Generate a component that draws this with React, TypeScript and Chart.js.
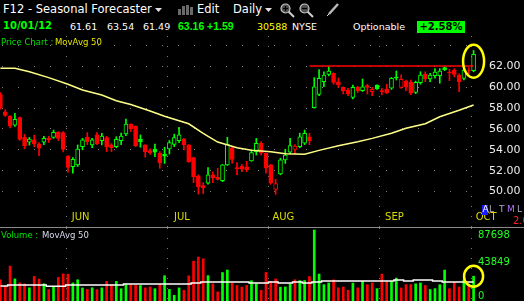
import React, { useEffect, useRef } from 'react';
import { Chart, registerables } from 'chart.js';

Chart.register(...registerables);

// ---- categories: trading days (MM/DD) ----
const mayDays = [11, 14, 15, 16, 17, 18, 21, 22, 23, 24, 25, 29, 30, 31];
const junDays = [1, 4, 5, 6, 7, 8, 11, 12, 13, 14, 15, 18, 19, 20, 21, 22, 25, 26, 27, 28, 29];
const julDays = [2, 3, 5, 6, 9, 10, 11, 12, 13, 16, 17, 18, 19, 20, 23, 24, 25, 26, 27, 30, 31];
const augDays = [1, 2, 3, 6, 7, 8, 9, 10, 13, 14, 15, 16, 17, 20, 21, 22, 23, 24, 27, 28, 29, 30, 31];
const sepDays = [4, 5, 6, 7, 10, 11, 12, 13, 14, 17, 18, 19, 20, 21, 24, 25, 26, 27, 28];
const octDays = [1];
const monthNames: Record<string, string> = { '05': 'MAY', '06': 'JUN', '07': 'JUL', '08': 'AUG', '09': 'SEP', '10': 'OCT' };
const monthDays: [string, number[]][] = [['05', mayDays], ['06', junDays], ['07', julDays], ['08', augDays], ['09', sepDays], ['10', octDays]];
const labels: string[] = [];
monthDays.forEach(([m, days]) => days.forEach((d) => labels.push(`${m}/${String(d).padStart(2, '0')}`)));

// ---- OHLC ----
const opens = [
  59.3, 57.65, 57.25, 56.36, 57.1, 55.2, 54.73, 54.95, 54.56, 54.73,
  55.1, 55.2, 55.68, 55.65, 53.4, 52.38, 52.55, 54.3, 55.23, 54.47,
  55.43, 54.88, 55.17, 54.47, 54.3, 54.88, 55.52, 56.48, 56.29, 55.04,
  54.47, 53.92, 54.08, 53.67, 53.57, 54.08, 54.53, 54.88, 55.01, 54.47,
  53.25, 51.49, 50.56, 50.79, 51.59, 51.37, 51.04, 52.55, 54.2, 52.29,
  52.45, 52.38, 52.93, 53.83, 54.63, 53.67, 52.55, 50.21, 51.68, 53.03,
  53.77, 54.05, 54.3, 54.63, 55.26, 58.05, 59.33, 60.54, 61.25, 61.35,
  60.54, 60.0, 59.74, 59.04, 60.0, 59.68, 60.16, 59.58, 60.22, 59.68,
  59.84, 59.91, 60.98, 60.0, 60.6, 60.48, 59.52, 60.45, 61.28, 60.8,
  61.12, 61.12, 61.9, 61.45, 61.66, 61.18, 60.85, 61.62, 61.61,
];
const highs = [
  59.5, 57.85, 57.3, 57.5, 57.15, 55.5, 55.2, 55.4, 54.7, 55.3,
  55.3, 55.9, 55.75, 55.75, 53.45, 53.25, 54.47, 55.1, 55.65, 55.1,
  55.65, 55.59, 55.3, 54.6, 55.26, 55.6, 56.96, 56.5, 56.3, 55.43,
  54.5, 54.1, 54.56, 53.83, 54.25, 54.9, 55.5, 56.16, 55.1, 54.5,
  53.3, 51.6, 50.85, 52.29, 51.9, 52.23, 52.6, 55.2, 54.3, 52.77,
  52.6, 52.9, 54.0, 55.1, 54.8, 53.7, 52.6, 51.17, 53.2, 54.05,
  55.1, 54.5, 55.6, 55.9, 55.6, 60.93, 61.7, 61.5, 62.0, 61.4,
  60.9, 60.05, 59.9, 60.22, 60.1, 60.8, 60.3, 60.0, 60.25, 59.9,
  60.3, 60.95, 61.57, 61.2, 60.7, 60.7, 60.6, 61.5, 61.5, 61.35,
  61.8, 61.8, 62.0, 61.73, 61.8, 61.3, 61.8, 61.9, 63.54,
];
const lows = [
  57.9, 57.2, 56.1, 56.25, 54.9, 54.1, 54.45, 54.3, 53.45, 54.5,
  54.7, 55.1, 54.88, 53.8, 51.85, 51.75, 52.4, 54.0, 54.5, 54.2,
  54.5, 54.47, 53.83, 53.83, 54.2, 54.5, 55.36, 55.75, 54.3, 54.25,
  53.3, 53.55, 53.35, 52.23, 52.7, 53.6, 54.3, 54.69, 54.0, 52.8,
  50.85, 49.75, 49.8, 50.7, 50.85, 51.1, 50.95, 52.5, 52.71, 51.6,
  51.9, 51.9, 52.9, 53.5, 53.5, 51.75, 50.7, 49.73, 51.6, 52.7,
  53.6, 53.6, 54.2, 54.5, 54.5, 58.0, 59.2, 60.06, 61.1, 60.3,
  60.0, 59.36, 59.2, 58.88, 59.5, 59.6, 59.36, 59.2, 59.8, 59.26,
  59.4, 59.8, 60.7, 59.9, 59.68, 59.3, 59.4, 60.3, 60.54, 60.54,
  60.87, 60.4, 61.6, 60.64, 61.0, 59.58, 60.7, 61.3, 61.49,
];
const closes = [
  58.0, 57.3, 56.3, 56.93, 55.0, 54.4, 55.04, 54.56, 54.15, 55.1,
  54.95, 55.68, 55.1, 54.05, 52.3, 53.1, 54.08, 54.95, 54.78, 54.95,
  54.6, 55.33, 54.3, 54.2, 55.0, 55.33, 56.48, 56.0, 54.4, 54.78,
  53.83, 53.73, 53.77, 52.77, 53.4, 54.69, 55.17, 55.43, 54.47, 52.87,
  51.42, 50.47, 50.37, 51.59, 51.33, 51.17, 52.55, 54.53, 53.09, 52.2,
  52.15, 52.1, 53.73, 54.63, 53.67, 52.23, 50.79, 50.75, 53.03, 53.5,
  54.4, 54.37, 55.26, 55.59, 54.85, 60.06, 60.87, 61.18, 61.57, 60.48,
  60.22, 59.68, 59.36, 60.0, 59.65, 60.06, 60.0, 59.81, 59.85, 59.58,
  59.49, 60.87, 60.9, 60.77, 60.06, 59.43, 60.48, 61.18, 60.8, 61.18,
  61.47, 61.57, 61.7, 61.38, 61.25, 60.54, 61.65, 61.57, 63.16,
];

// ---- 50-day moving average of price, read at points [index, value] ----
const maPoints: [number, number][] = [
  [0, 61.83], [3, 61.83], [6, 61.5], [10, 60.93], [14, 60.29], [17, 59.74], [21, 59.26],
  [24, 58.72], [27, 58.35], [31, 57.73], [34, 57.22], [39, 56.5], [42, 55.59], [45, 54.75],
  [49, 54.2], [52, 53.95], [56, 53.82], [59, 53.62], [63, 53.57], [66, 53.95], [70, 54.4],
  [74, 54.78], [77, 55.1], [81, 55.6], [84, 56.07], [88, 56.5], [91, 57.18], [95, 57.8], [98, 58.3],
];

// ---- resistance line ----
const resistanceLevel = 62.05;
const resistanceFrom = 64;
const resistanceTo = 98;

// ---- volume ----
const volumes = [
  26100, 18200, 43100, 27300, 22400, 21200, 16300, 30400, 27100, 21300,
  14200, 18300, 29200, 33400, 33100, 22300, 26200, 16100, 14300, 16400,
  14100, 16200, 24300, 20100, 24200, 15100, 20300, 20200, 19300, 19100,
  16200, 17300, 15200, 20400, 31200, 14300, 7100, 16200, 13300, 31100,
  49200, 54300, 52100, 31300, 21200, 11300, 35200, 38300, 22100, 19200,
  17200, 19300, 25100, 21400, 13200, 35300, 24100, 27200, 17100, 17400,
  21300, 26300, 25200, 25300, 30200, 87698, 33300, 20200, 22300, 26100,
  16300, 17200, 13300, 22100, 16200, 24300, 20100, 22200, 15300, 33200,
  24100, 24300, 28300, 16100, 20200, 20300, 21200, 22300, 19100, 14200,
  15300, 20100, 38200, 15200, 23100, 17300, 26200, 20100, 30588,
];
const volumeMA = [
  18500, 18500, 19800, 19800, 19800, 19800, 19800, 19800, 19800, 19800,
  18100, 18100, 18100, 18100, 19800, 19800, 19800, 19800, 19800, 19800,
  19800, 19800, 19800, 19800, 19800, 19800, 21000, 21000, 21000, 21000,
  21000, 21000, 21000, 21000, 21000, 21000, 21000, 21000, 21000, 21000,
  22200, 22200, 23500, 23500, 23500, 23500, 23500, 23500, 23500, 23500,
  23500, 23500, 22200, 22200, 22200, 22200, 23500, 23500, 22200, 22200,
  22200, 23500, 23500, 22200, 22200, 23500, 23500, 24700, 24700, 24700,
  24700, 24700, 24700, 24700, 24700, 24700, 24700, 24700, 24700, 24700,
  24700, 24700, 25900, 25900, 24700, 24700, 25900, 25900, 25900, 25900,
  24700, 24700, 23500, 23500, 23500, 23500, 23500, 23500, 23500,
];
const volumeTickLabels = ['0', '43849', '87698'];
const volumeTickValues = [0, 43849, 87698];
const priceTicks = [50, 52, 54, 56, 58, 60, 62, 64];

const GREEN = '#00ff00';
const RED = '#ff0000';
const isUp = (i: number) => (i === 0 ? closes[0] >= opens[0] : closes[i] >= closes[i - 1]);
const candleColors = closes.map((_, i) => (isUp(i) ? GREEN : RED));
const bodyFills = closes.map((c, i) => (c > opens[i] ? '#000000' : candleColors[i]));

const monthStarts: { index: number; name: string }[] = [];
labels.forEach((l, i) => {
  if (i > 0 && l.slice(0, 2) !== labels[i - 1].slice(0, 2)) monthStarts.push({ index: i, name: monthNames[l.slice(0, 2)] });
});

const FONT = '"DejaVu Sans", Verdana, sans-serif';
const NARROW = '"Liberation Sans", Arial, sans-serif';

function drawMonthLines(chart: any) {
  const { ctx, chartArea, scales } = chart;
  const x = scales.x;
  ctx.save();
  ctx.strokeStyle = '#7a7a7a';
  ctx.lineWidth = 1;
  ctx.setLineDash([1, 9]);
  monthStarts.forEach((ms) => {
    const bx = Math.round((x.getPixelForValue(ms.index - 1) + x.getPixelForValue(ms.index)) / 2) + 0.5;
    ctx.beginPath();
    ctx.moveTo(bx, chartArea.top);
    ctx.lineTo(bx, chartArea.bottom);
    ctx.stroke();
  });
  ctx.restore();
}

const pricePlugin = {
  id: 'pricePlugin',
  beforeDatasetsDraw(chart: any) {
    drawMonthLines(chart);
  },
  afterDatasetsDraw(chart: any) {
    const { ctx, scales } = chart;
    const x = scales.x;
    const y = scales.y;
    ctx.save();
    ctx.font = `10px ${FONT}`;
    ctx.fillStyle = '#dada00';
    ctx.textAlign = 'center';
    ctx.textBaseline = 'middle';
    monthStarts.forEach((ms) => {
      const bx = (x.getPixelForValue(ms.index - 1) + x.getPixelForValue(ms.index)) / 2;
      ctx.fillText(ms.name, bx + 15, 181.5);
    });
    // highlight ellipse around last candle
    const li = closes.length - 1;
    const cx = x.getPixelForValue(li);
    const cy = y.getPixelForValue((highs[li] + lows[li]) / 2);
    ctx.strokeStyle = '#ffff00';
    ctx.lineWidth = 2.5;
    ctx.beginPath();
    ctx.ellipse(cx, cy, 10.5, 16.5, 0, 0, Math.PI * 2);
    ctx.stroke();
    ctx.restore();
  },
};

const volumePlugin = {
  id: 'volumePlugin',
  beforeDatasetsDraw(chart: any) {
    drawMonthLines(chart);
  },
  afterDatasetsDraw(chart: any) {
    const { ctx, scales, chartArea } = chart;
    const x = scales.x;
    const y = scales.y;
    ctx.save();
    ctx.font = `10px ${FONT}`;
    ctx.fillStyle = '#22ff22';
    ctx.textAlign = 'left';
    ctx.textBaseline = 'middle';
    volumeTickValues.forEach((v, i) => {
      let py = y.getPixelForValue(v) - 3;
      py = Math.max(chartArea.top + 7, Math.min(chartArea.bottom - 5, py));
      ctx.fillText(volumeTickLabels[i], chartArea.right + 2, py);
    });
    const li = volumes.length - 1;
    ctx.strokeStyle = '#ffff00';
    ctx.lineWidth = 2.5;
    ctx.beginPath();
    ctx.ellipse(x.getPixelForValue(li), y.getPixelForValue(volumes[li]), 9.5, 10.5, 0, 0, Math.PI * 2);
    ctx.stroke();
    ctx.restore();
  },
};

const T = (p: { x: number; y: number; s: number; c: string; b?: boolean; children: React.ReactNode; w?: number; f?: string }) => (
  <span
    style={{
      position: 'absolute', left: p.x, top: p.y, fontSize: p.s, color: p.c, fontWeight: p.b ? 'bold' : 'normal',
      lineHeight: 1, whiteSpace: 'pre', fontFamily: p.f || FONT, width: p.w, textAlign: p.w ? 'center' : undefined,
    }}
  >
    {p.children}
  </span>
);

export default function App() {
  const priceRef = useRef<HTMLCanvasElement>(null);
  const volRef = useRef<HTMLCanvasElement>(null);

  useEffect(() => {
    const pc = new Chart(priceRef.current as HTMLCanvasElement, {
      type: 'bar',
      data: {
        labels,
        datasets: [
          {
            type: 'line', data: maPoints.map(([i, v]) => ({ x: labels[i], y: v })) as any,
            borderColor: '#ffff88', borderWidth: 1.5, pointRadius: 0, order: 0, spanGaps: true,
          } as any,
          {
            type: 'line', data: [{ x: labels[resistanceFrom], y: resistanceLevel }, { x: labels[resistanceTo], y: resistanceLevel }] as any,
            borderColor: RED, borderWidth: 1.5, pointRadius: 0, order: 0,
          } as any,
          {
            type: 'bar', data: opens.map((o, i) => [o, closes[i]]) as any, backgroundColor: bodyFills, borderColor: candleColors,
            borderWidth: 1, borderSkipped: false, barThickness: 4, grouped: false, order: 1,
          } as any,
          {
            type: 'bar', data: lows.map((l, i) => [l, highs[i]]) as any, backgroundColor: candleColors,
            borderWidth: 0, barThickness: 1, grouped: false, order: 2,
          } as any,
        ],
      },
      options: {
        animation: false, responsive: false, maintainAspectRatio: false,
        layout: { padding: 0, autoPadding: false },
        plugins: { legend: { display: false }, tooltip: { enabled: false } },
        scales: {
          x: { display: false, offset: true },
          y: {
            position: 'right', min: 46.592, max: 64.928,
            afterBuildTicks: (s: any) => { s.ticks = priceTicks.map((v) => ({ value: v })); },
            afterFit: (s: any) => { s.width = 48; s.paddingTop = 0; s.paddingBottom = 0; },
            ticks: {
              padding: 13, color: '#ececec', font: { family: FONT, size: 11 },
              callback: (v: any) => (Number(v) <= 62 ? Number(v).toFixed(2) : ''),
            },
            grid: { color: '#808080', drawTicks: false },
            border: { display: false, dash: [1, 15], dashOffset: -4 },
          },
        },
      } as any,
      plugins: [pricePlugin],
    });

    const vc = new Chart(volRef.current as HTMLCanvasElement, {
      type: 'bar',
      data: {
        labels,
        datasets: [
          {
            type: 'line', data: volumeMA, borderColor: '#ffffff', borderWidth: 1.5, pointRadius: 0, stepped: 'middle', order: 0,
          } as any,
          {
            type: 'bar', data: volumes, backgroundColor: candleColors, borderWidth: 0, barThickness: 2, grouped: false, order: 1,
          } as any,
        ],
      },
      options: {
        animation: false, responsive: false, maintainAspectRatio: false,
        layout: { padding: 0, autoPadding: false },
        plugins: { legend: { display: false }, tooltip: { enabled: false } },
        scales: {
          x: { display: false, offset: true },
          y: {
            position: 'right', min: 0, max: 90168,
            afterFit: (s: any) => { s.width = 48; s.paddingTop = 0; s.paddingBottom = 0; },
            ticks: { display: false },
            grid: { display: false },
            border: { display: false },
          },
        },
      } as any,
      plugins: [volumePlugin],
    });

    return () => { pc.destroy(); vc.destroy(); };
  }, []);

  return (
    <div style={{ position: 'fixed', left: 0, top: 0, width: 524, height: 301, background: '#000', overflow: 'hidden' }}>
      {/* row 1 */}
      <T x={3} y={3.6} s={11.5} c="#ffffff">F12 - Seasonal Forecaster</T>
      <svg style={{ position: 'absolute', left: 155, top: 8 }} width={8} height={5}><polygon points="0,0 7,0 3.5,4" fill="#e0e0e0" /></svg>
      <svg style={{ position: 'absolute', left: 178, top: 5 }} width={16} height={10}>
        <rect x={0} y={4} width={3} height={6} fill="#6a6a6a" />
        <rect x={4} y={1} width={3} height={9} fill="#6a6a6a" />
        <rect x={8} y={0} width={3} height={10} fill="#6a6a6a" />
        <rect x={12} y={2} width={3} height={8} fill="#6a6a6a" />
      </svg>
      <T x={197} y={3.6} s={11.5} c="#ffffff">Edit</T>
      <T x={233} y={3.6} s={11.5} c="#ffffff">Daily</T>
      <svg style={{ position: 'absolute', left: 265, top: 8 }} width={8} height={5}><polygon points="0,0 7,0 3.5,4" fill="#e0e0e0" /></svg>
      {[280, 299].map((lx, k) => (
        <svg key={lx} style={{ position: 'absolute', left: lx, top: 3 }} width={16} height={16}>
          <line x1={8} y1={8} x2={14} y2={14} stroke="#d0d0d0" strokeWidth={2} />
          <circle cx={5.5} cy={5.5} r={4.5} fill="#505050" stroke="#c8c8c8" strokeWidth={1.2} />
          <line x1={3} y1={5.5} x2={8} y2={5.5} stroke="#000" strokeWidth={1.2} />
          {k === 0 && <line x1={5.5} y1={3} x2={5.5} y2={8} stroke="#000" strokeWidth={1.2} />}
        </svg>
      ))}
      <svg style={{ position: 'absolute', left: 326, top: 3 }} width={14} height={14}>
        <line x1={12} y1={1} x2={3} y2={11} stroke="#b8b8b8" strokeWidth={2.5} />
        <line x1={3} y1={11} x2={1} y2={13} stroke="#e0e0e0" strokeWidth={1} />
      </svg>
      {/* row 2 */}
      <T x={3} y={21} s={10} c={GREEN} b>10/01/12</T>
      <T x={70} y={21.5} s={9.5} c="#ffffff">61.61</T>
      <T x={107} y={21.5} s={9.5} c="#ffffff">63.54</T>
      <T x={143} y={21.5} s={9.5} c="#ffffff">61.49</T>
      <T x={178} y={21} s={10.5} c={GREEN} b f={NARROW}>63.16</T>
      <T x={207} y={21} s={10.5} c={GREEN} b f={NARROW}>+1.59</T>
      <T x={257} y={21.5} s={9.5} c="#ffff00">30588</T>
      <T x={292} y={21.5} s={9.5} c="#ffffff">NYSE</T>
      <T x={353} y={21.5} s={9.5} c="#ffffff">Optionable</T>
      <div style={{ position: 'absolute', left: 417, top: 20.5, width: 48, height: 12.5, background: '#00ff00' }} />
      <T x={417} y={22} s={10} c="#000000" b w={48}>+2.58%</T>

      <canvas ref={priceRef} width={526} height={191} style={{ position: 'absolute', left: -2, top: 36 }} />
      <div style={{ position: 'absolute', left: 0, top: 227, width: 524, height: 1, background: '#8a8a8a' }} />
      <canvas ref={volRef} width={526} height={73} style={{ position: 'absolute', left: -2, top: 228 }} />

      {/* row 3 */}
      <T x={1} y={38.3} s={8.5} c="#00e000">Price Chart :</T>
      <T x={55} y={38.3} s={8.5} c="#e8e800">MovAvg 50</T>
      <T x={1} y={230.7} s={8.5} c="#00e000">Volume :</T>
      <T x={42} y={230.7} s={8.5} c="#d8dcec">MovAvg 50</T>

      {/* range selector */}
      <span style={{ position: 'absolute', left: 482, top: 205, width: 6, height: 10, background: '#1a1aff' }} />
      <T x={482.5} y={205} s={9} c="#ffffff">A</T>
      <T x={489} y={205} s={9} c="#a8a8c8">L</T>
      <T x={499} y={205} s={9} c="#a8a8c8">T</T>
      <T x={507} y={205} s={9} c="#b070ff">M</T>
      <T x={517} y={205} s={9} c="#a8a8c8">L</T>
      <T x={513} y={216} s={10} c="#ff2020">2.00</T>
    </div>
  );
}
